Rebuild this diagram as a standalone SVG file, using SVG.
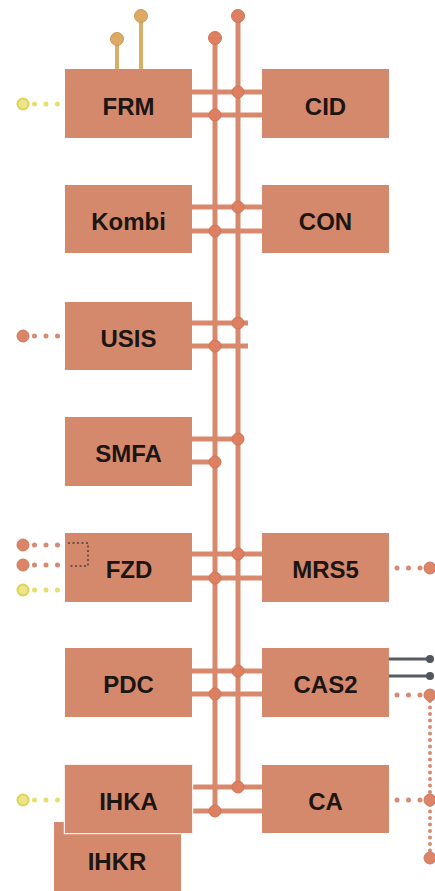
<svg xmlns="http://www.w3.org/2000/svg" width="435" height="891" viewBox="0 0 435 891">
<defs>
<style>
.box{fill:#d4896c}
.lbl{font-family:"Liberation Sans",Arial,sans-serif;font-weight:bold;font-size:24px;fill:#1c1512;text-anchor:middle}
.bus{stroke:#d8896c;stroke-width:5;fill:none}
.pin{stroke:#d9ad6a;stroke-width:4;fill:none}
.j{fill:#dd7f60;stroke:#cf7458;stroke-width:1}
.gj{fill:#dcaa62;stroke:#c99a58;stroke-width:1}
.od{stroke:#d88a70;stroke-width:5;stroke-linecap:round;stroke-dasharray:0 11.5;fill:none}
.yd{stroke:#e6df6a;stroke-width:5;stroke-linecap:round;stroke-dasharray:0 11.5;fill:none}
.oc{fill:#dc8467;stroke:#cc7a5e;stroke-width:1}
.yc{fill:#eee48a;stroke:#dcd45a;stroke-width:2}
.gl{stroke:#555b62;stroke-width:3;fill:none}
.gc{fill:#4f565e}
.vd{stroke:#d88a70;stroke-width:4;stroke-linecap:round;stroke-dasharray:0 6.5;fill:none}
</style>
</defs>
<rect width="435" height="891" fill="#ffffff"/>

<g id="connectors">
<!-- gold pins on FRM -->
<line class="pin" x1="117" y1="39" x2="117" y2="70"/>
<line class="pin" x1="141" y1="16" x2="141" y2="70"/>
<circle class="gj" cx="117" cy="39" r="6.5"/>
<circle class="gj" cx="141" cy="16" r="6.5"/>
<!-- horizontal bus taps -->
<line class="bus" x1="190" y1="92" x2="264" y2="92"/>
<line class="bus" x1="190" y1="115" x2="264" y2="115"/>
<line class="bus" x1="190" y1="207" x2="264" y2="207"/>
<line class="bus" x1="190" y1="231" x2="264" y2="231"/>
<line class="bus" x1="190" y1="323" x2="248" y2="323"/>
<line class="bus" x1="190" y1="346" x2="248" y2="346"/>
<line class="bus" x1="190" y1="439" x2="238" y2="439"/>
<line class="bus" x1="190" y1="462" x2="215" y2="462"/>
<line class="bus" x1="190" y1="554" x2="264" y2="554"/>
<line class="bus" x1="190" y1="578" x2="264" y2="578"/>
<line class="bus" x1="190" y1="671" x2="264" y2="671"/>
<line class="bus" x1="190" y1="694" x2="264" y2="694"/>
<line class="bus" x1="190" y1="787" x2="264" y2="787"/>
<line class="bus" x1="190" y1="811" x2="264" y2="811"/>
<!-- vertical buses -->
<line class="bus" x1="215" y1="38" x2="215" y2="811"/>
<line class="bus" x1="238" y1="16" x2="238" y2="787"/>
<circle class="j" cx="215" cy="38" r="6.5"/>
<circle class="j" cx="238" cy="16" r="6.5"/>
<!-- joints -->
<circle class="j" cx="238" cy="92" r="6"/>
<circle class="j" cx="215" cy="115" r="6"/>
<circle class="j" cx="238" cy="207" r="6"/>
<circle class="j" cx="215" cy="231" r="6"/>
<circle class="j" cx="238" cy="323" r="6"/>
<circle class="j" cx="215" cy="346" r="6"/>
<circle class="j" cx="238" cy="439" r="6"/>
<circle class="j" cx="215" cy="462" r="6"/>
<circle class="j" cx="238" cy="554" r="6"/>
<circle class="j" cx="215" cy="578" r="6"/>
<circle class="j" cx="238" cy="671" r="6"/>
<circle class="j" cx="215" cy="694" r="6"/>
<circle class="j" cx="238" cy="787" r="6"/>
<circle class="j" cx="215" cy="811" r="6"/>

<!-- left dotted stubs -->
<line class="yd" x1="34.5" y1="104" x2="60" y2="104"/>
<circle class="yc" cx="23" cy="104" r="5.5"/>
<line class="od" x1="34.5" y1="336" x2="60" y2="336"/>
<circle class="oc" cx="23" cy="336" r="6"/>
<line class="od" x1="34.5" y1="545" x2="60" y2="545"/>
<circle class="oc" cx="23" cy="545" r="6"/>
<line class="od" x1="34.5" y1="565" x2="60" y2="565"/>
<circle class="oc" cx="23" cy="565" r="6"/>
<line class="yd" x1="34.5" y1="590" x2="60" y2="590"/>
<circle class="yc" cx="23" cy="590" r="5.5"/>
<line class="yd" x1="34.5" y1="800" x2="60" y2="800"/>
<circle class="yc" cx="23" cy="800" r="5.5"/>

<!-- right side stubs -->
<line class="od" x1="397" y1="568" x2="421" y2="568"/>
<circle class="oc" cx="430" cy="568" r="6"/>
<line class="gl" x1="389" y1="659" x2="430" y2="659"/>
<line class="gl" x1="389" y1="676" x2="430" y2="676"/>
<circle class="gc" cx="430" cy="659" r="4"/>
<circle class="gc" cx="430" cy="676" r="4"/>
<line class="vd" x1="430" y1="701" x2="430" y2="853"/>
<line class="od" x1="397" y1="695" x2="421" y2="695"/>
<circle class="oc" cx="430" cy="695" r="6"/>
<line class="od" x1="397" y1="800" x2="421" y2="800"/>
<circle class="oc" cx="430" cy="800" r="6"/>
<circle class="oc" cx="430" cy="858" r="6"/>
</g>

<g id="IHKR"><rect class="box" x="54" y="822" width="127" height="69"/><text class="lbl" x="117" y="870">IHKR</text></g>
<g id="FRM"><rect class="box" x="65" y="69" width="127" height="69"/><text class="lbl" x="128.5" y="115">FRM</text></g>
<g id="CID"><rect class="box" x="262" y="69" width="127" height="69"/><text class="lbl" x="325.5" y="115">CID</text></g>
<g id="Kombi"><rect class="box" x="65" y="185" width="127" height="68"/><text class="lbl" x="128.5" y="230">Kombi</text></g>
<g id="CON"><rect class="box" x="262" y="185" width="127" height="68"/><text class="lbl" x="325.5" y="230">CON</text></g>
<g id="USIS"><rect class="box" x="65" y="302" width="127" height="68"/><text class="lbl" x="128.5" y="347">USIS</text></g>
<g id="SMFA"><rect class="box" x="65" y="417" width="127" height="69"/><text class="lbl" x="128.5" y="462">SMFA</text></g>
<g id="FZD"><rect class="box" x="65" y="533" width="127" height="69"/>
<path d="M68,543 H88 V566 H68" fill="none" stroke="#4a4040" stroke-width="1.5" stroke-dasharray="2 2.5"/>
<text class="lbl" x="129" y="578">FZD</text></g>
<g id="MRS5"><rect class="box" x="262" y="533" width="127" height="69"/><text class="lbl" x="325.5" y="578">MRS5</text></g>
<g id="PDC"><rect class="box" x="65" y="648" width="127" height="69"/><text class="lbl" x="128.5" y="693">PDC</text></g>
<g id="CAS2"><rect class="box" x="262" y="648" width="127" height="69"/><text class="lbl" x="325.5" y="693">CAS2</text></g>
<g id="IHKA"><rect class="box" x="65" y="765" width="127" height="68" stroke="#fbeee8" stroke-width="2.5" paint-order="stroke"/><text class="lbl" x="128.5" y="810">IHKA</text></g>
<g id="CA"><rect class="box" x="262" y="765" width="127" height="68"/><text class="lbl" x="325.5" y="810">CA</text></g>
</svg>
